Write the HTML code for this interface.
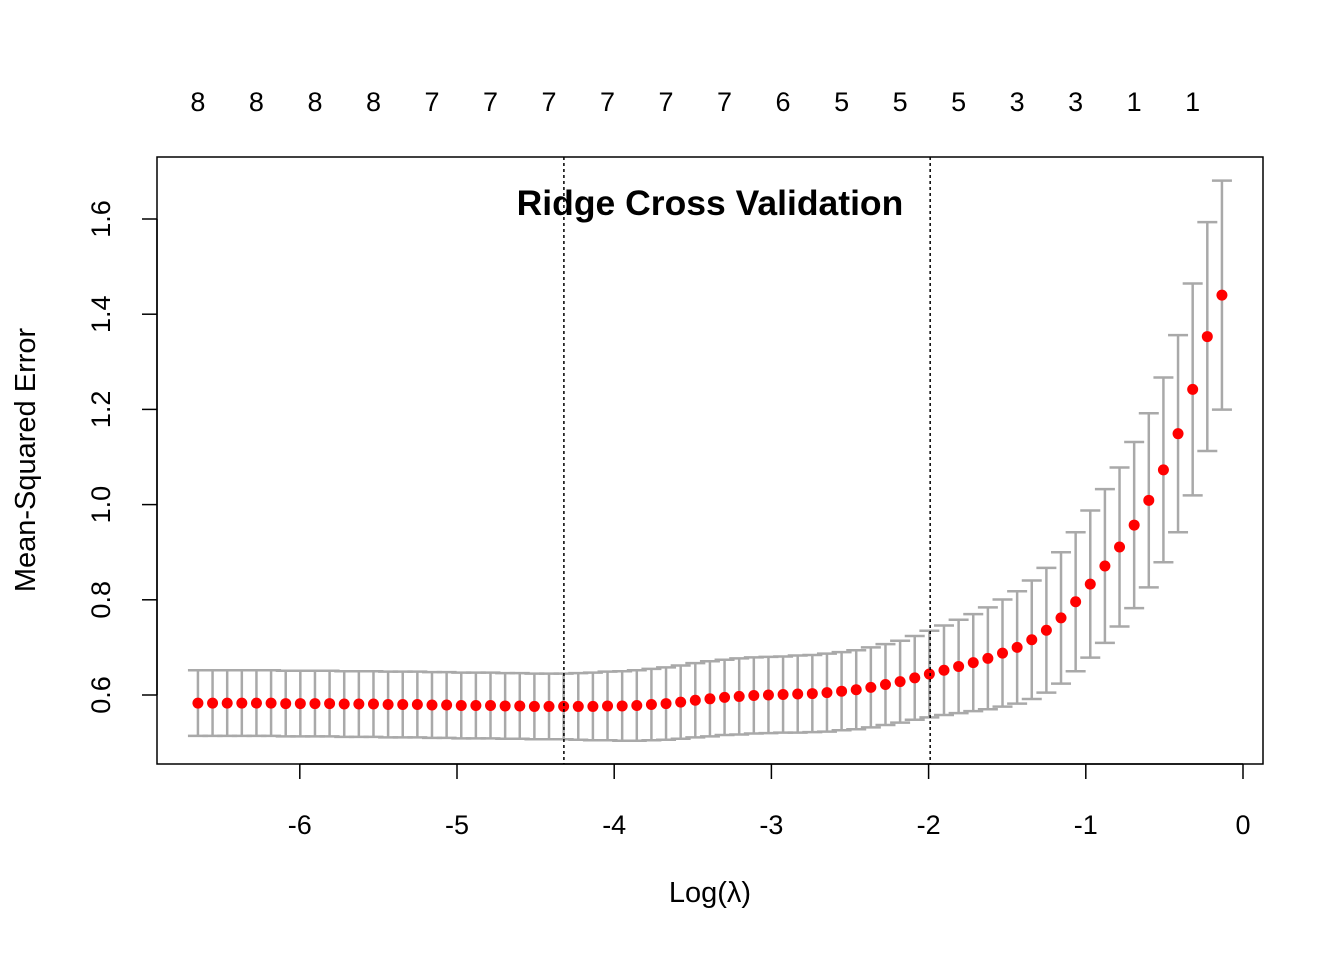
<!DOCTYPE html>
<html><head><meta charset="utf-8"><style>
html,body{margin:0;padding:0;background:#fff}
svg text{font-family:"Liberation Sans",Arial,sans-serif;fill:#000}
</style></head><body>
<svg id="chart" width="1344" height="960" xmlns="http://www.w3.org/2000/svg">
<rect x="0" y="0" width="1344" height="960" fill="#fff"/>
<g id="bars"></g>
<g id="pts"></g>
<rect x="157" y="157" width="1106" height="607" fill="none" stroke="#000" stroke-width="1.5"/>
<g id="axes"></g>
<text x="710" y="215" text-anchor="middle" font-size="35.5" font-weight="bold">Ridge Cross Validation</text>
<text x="710" y="902" text-anchor="middle" font-size="29">Log(λ)</text>
<text transform="translate(35,460) rotate(-90)" text-anchor="middle" font-size="29">Mean-Squared Error</text>
</svg>
<script>
const mse = [0.583,0.583,0.583,0.583,0.583,0.583,0.582,0.582,0.582,0.582,0.581,0.581,0.581,0.580,0.580,0.580,0.579,0.579,0.578,0.578,0.578,0.577,
0.577,0.576,0.576,0.576,0.576,0.576,0.577,0.577,0.578,0.580,
0.582,0.585,0.589,0.592,0.595,0.597,0.599,0.600,0.601,0.602,0.603,0.605,0.608,0.611,0.616,0.622,0.628,0.636,0.644,0.652,0.660,
0.668,0.677,0.688,0.700,0.716,0.736,0.762,0.796,0.833,0.871,0.911,0.957,1.009,1.073,1.149,1.242,1.353,1.440];
const sd = [0.069,0.069,0.069,0.069,0.069,0.069,0.069,0.069,0.069,0.069,0.069,0.069,0.069,0.069,0.069,0.069,0.069,0.069,0.069,0.069,0.069,0.069,0.069,0.069,0.069,0.069,
0.070,0.071,0.072,0.073,0.074,
0.075,0.076,0.077,0.078,0.079,0.079,0.080,0.080,0.080,0.080,
0.081,0.081,0.082,0.082,0.083,0.084,0.085,0.086,0.088,0.091,0.094,0.098,
0.102,0.107,0.1125,0.118,0.1245,0.131,0.138,0.146,0.1545,0.1615,0.167,0.1745,0.183,0.194,0.207,0.2225,0.2405,0.2405];
const logLambdaFirst = -6.648;
const logLambdaLast = -0.134;
const lambdaMin = -4.32;
const lambda1se = -1.99;
const nzero = [8,8,8,8,7,7,7,7,7,7,6,5,5,5,3,3,1,1];
const xTicks = [-6,-5,-4,-3,-2,-1,0];
const yTicks = [0.6,0.8,1.0,1.2,1.4,1.6];

const NS="http://www.w3.org/2000/svg";
const X = v => 1243 + 157.2*v;
const Y = v => 695 - (v-0.6)*476;
const mk=(t,a,p)=>{const e=document.createElementNS(NS,t);for(const k in a)e.setAttribute(k,a[k]);p.appendChild(e);return e;};
const n = mse.length;
const lam = i => logLambdaFirst + (logLambdaLast-logLambdaFirst)*i/(n-1);
const bars=document.getElementById('bars'), pts=document.getElementById('pts'), axes=document.getElementById('axes');
for(let i=0;i<n;i++){
  const x=X(lam(i)), up=Y(mse[i]+sd[i]), lo=Y(mse[i]-sd[i]);
  const g=mk('g',{stroke:'#a9a9a9','stroke-width':2.5},bars);
  
  
  mk('line',{x1:x,x2:x,y1:up,y2:lo},g);
  mk('line',{x1:x-10,x2:x+10,y1:up,y2:up},g);
  mk('line',{x1:x-10,x2:x+10,y1:lo,y2:lo},g);
}
for(let i=0;i<n;i++){
  const c=mk('circle',{cx:X(lam(i)),cy:Y(mse[i]),r:5.5,fill:'#ff0000'},pts);
  
  
}
[lambdaMin,lambda1se].forEach(v=>{
  const l=mk('line',{x1:X(v),x2:X(v),y1:157,y2:764,stroke:'#000','stroke-width':1.5,'stroke-dasharray':'3,3'},axes);
  
  
});
mk('line',{x1:X(-6),x2:X(0),y1:764,y2:764,stroke:'#000','stroke-width':1.5},axes);
xTicks.forEach(v=>{
  mk('line',{x1:X(v),x2:X(v),y1:764,y2:779,stroke:'#000','stroke-width':1.5},axes);
  const t=mk('text',{x:X(v),y:834,'text-anchor':'middle','font-size':27},axes);
  t.textContent=v;
  
  
});
mk('line',{x1:157,x2:157,y1:Y(0.6),y2:Y(1.6),stroke:'#000','stroke-width':1.5},axes);
yTicks.forEach(v=>{
  mk('line',{x1:142,x2:157,y1:Y(v),y2:Y(v),stroke:'#000','stroke-width':1.5},axes);
  const t=mk('text',{transform:`translate(110,${Y(v)}) rotate(-90)`,'text-anchor':'middle','font-size':27},axes);
  t.textContent=v.toFixed(1);
  
  
});
nzero.forEach((v,k)=>{
  const t=mk('text',{x:X(lam(k*4)),y:111,'text-anchor':'middle','font-size':27},axes);
  t.textContent=v;
  
  
});
</script>
</body></html>
